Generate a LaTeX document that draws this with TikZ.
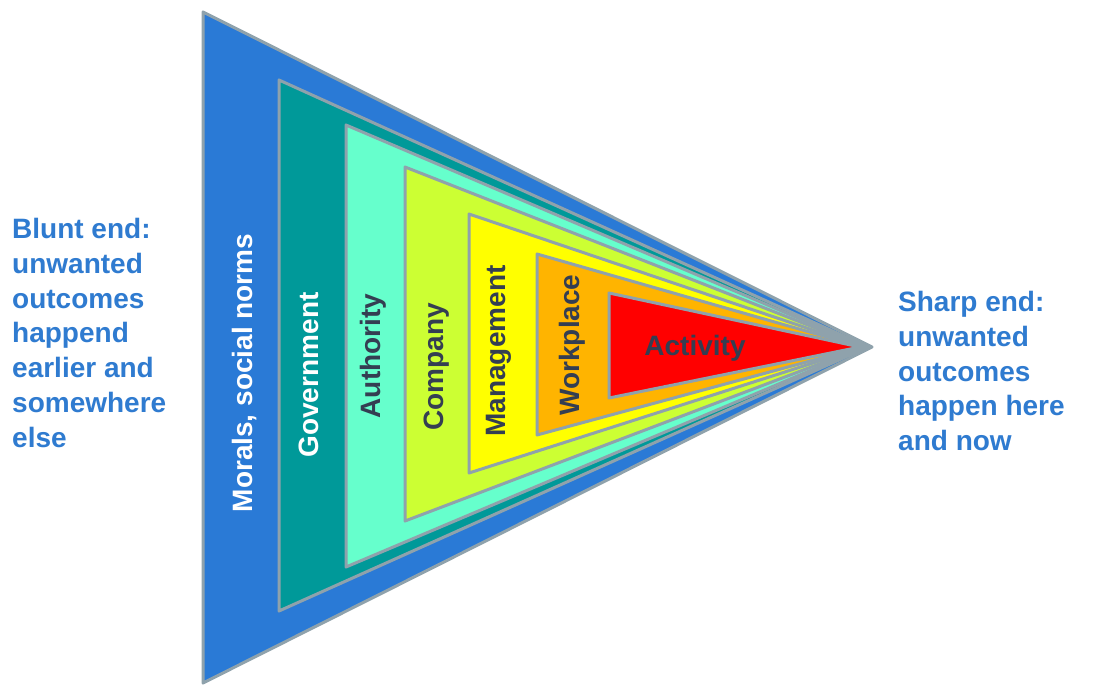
\documentclass[tikz,border=0pt]{standalone}
\usepackage{fontspec}
\setmainfont{Liberation Sans}
\definecolor{cblue}{RGB}{42,122,214}
\definecolor{cteal}{RGB}{0,153,153}
\definecolor{caqua}{RGB}{102,255,204}
\definecolor{clime}{RGB}{204,255,51}
\definecolor{cyell}{RGB}{255,255,0}
\definecolor{corange}{RGB}{255,180,0}
\definecolor{cred}{RGB}{255,0,0}
\definecolor{cedge}{RGB}{143,162,172}
\definecolor{cdark}{RGB}{52,62,82}
\definecolor{ctext}{RGB}{47,123,208}
\begin{document}
\begin{tikzpicture}[x=1pt,y=-1pt,
  layer/.style={draw=cedge,line width=3pt,line join=round},
  lbl/.style={font=\fontsize{28}{34.8}\selectfont\bfseries,inner sep=0pt},
  side/.style={lbl,text=ctext,align=left,anchor=north west}]
\useasboundingbox (0,0) rectangle (1107,687);
\fill[white] (0,0) rectangle (1107,687);
\filldraw[layer,fill=cblue]   (203,12)  -- (203,683) -- (872,347) -- cycle;
\filldraw[layer,fill=cteal]   (279,80)  -- (279,611) -- (868,347) -- cycle;
\filldraw[layer,fill=caqua]   (346,125) -- (346,567) -- (866,347) -- cycle;
\filldraw[layer,fill=clime]   (405,167) -- (405,521) -- (864,347) -- cycle;
\filldraw[layer,fill=cyell]   (469,214) -- (469,473) -- (863,347) -- cycle;
\filldraw[layer,fill=corange] (537,254) -- (537,435) -- (862,347) -- cycle;
\filldraw[layer,fill=cred]    (609,293) -- (609,398) -- (860,347) -- cycle;
\node[lbl,text=white,rotate=90] (morals) at (245,373) {Morals, social norms};
\node[lbl,text=white,rotate=90] (gov) at (309,375) {Government};
\node[lbl,text=cdark,rotate=90] (auth) at (373,356) {Authority};
\node[lbl,text=cdark,rotate=90] (comp) at (437,367) {Company};
\node[lbl,text=cdark,rotate=90] (mgmt) at (499,351) {Management};
\node[lbl,text=cdark,rotate=90] (work) at (572,345) {Workplace};
\node[lbl,text=cdark] (act) at (695,348) {Activity};
\node[side] (blunt) at (12,218) {Blunt end:\\unwanted\\outcomes\\happend\\earlier and\\somewhere\\else};
\node[side] (sharp) at (898,291) {Sharp end:\\unwanted\\outcomes\\happen here\\and now};
\end{tikzpicture}
\end{document}
